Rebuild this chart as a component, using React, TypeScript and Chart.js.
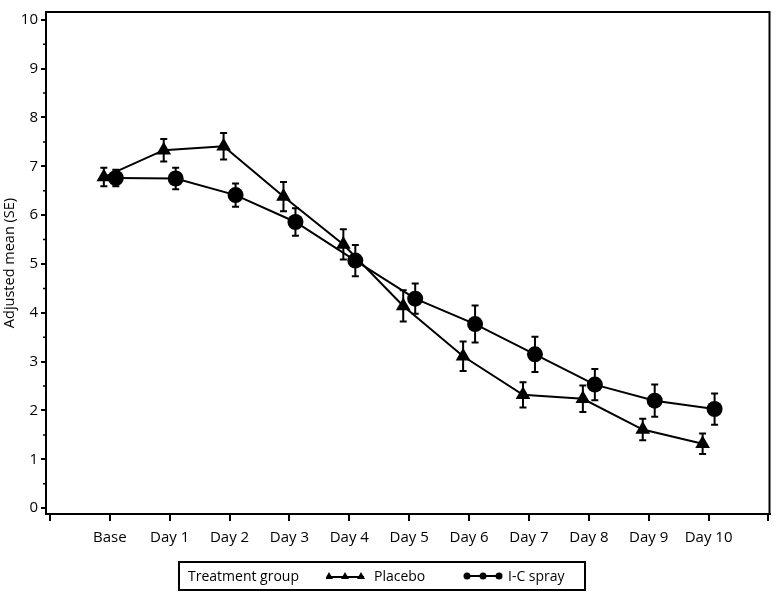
import { useEffect, useRef } from 'react';
import { Chart, registerables } from 'chart.js';

Chart.register(...registerables);

const categories = ['Base', 'Day 1', 'Day 2', 'Day 3', 'Day 4', 'Day 5', 'Day 6', 'Day 7', 'Day 8', 'Day 9', 'Day 10'];
const placeboMean = [6.78, 7.33, 7.41, 6.38, 5.40, 4.14, 3.11, 2.32, 2.24, 1.61, 1.32];
const placeboSE = [0.19, 0.23, 0.27, 0.30, 0.31, 0.32, 0.30, 0.26, 0.27, 0.22, 0.21];
const sprayMean = [6.76, 6.75, 6.41, 5.86, 5.07, 4.29, 3.77, 3.15, 2.53, 2.20, 2.03];
const spraySE = [0.17, 0.22, 0.24, 0.28, 0.32, 0.31, 0.38, 0.36, 0.32, 0.33, 0.32];
const yTickValues = [0, 1, 2, 3, 4, 5, 6, 7, 8, 9, 10];
const xTickValues = [-1, 0, 1, 2, 3, 4, 5, 6, 7, 8, 9, 10, 11];

const FONT = '"Open Sans", "Noto Sans", sans-serif';
const OFFSET = 0.1;

const errorBarPlugin = {
  id: 'errorBars',
  afterDatasetsDraw(chart: any) {
    const ctx = chart.ctx;
    const y = chart.scales.y;
    chart.data.datasets.forEach((ds: any, di: number) => {
      const meta = chart.getDatasetMeta(di);
      meta.data.forEach((pt: any, i: number) => {
        const m = ds.data[i].y;
        const s = ds.se[i];
        const top = y.getPixelForValue(m + s);
        const bot = y.getPixelForValue(m - s);
        ctx.save();
        ctx.strokeStyle = '#000';
        ctx.lineWidth = 2;
        ctx.beginPath();
        ctx.moveTo(pt.x, top);
        ctx.lineTo(pt.x, bot);
        ctx.moveTo(pt.x - 3.5, top);
        ctx.lineTo(pt.x + 3.5, top);
        ctx.moveTo(pt.x - 3.5, bot);
        ctx.lineTo(pt.x + 3.5, bot);
        ctx.stroke();
        ctx.restore();
      });
    });
  },
};

const framePlugin = {
  id: 'frame',
  afterDraw(chart: any) {
    const { ctx, chartArea } = chart;
    const y = chart.scales.y;
    ctx.save();
    ctx.strokeStyle = '#000';
    ctx.lineWidth = 2;
    ctx.strokeRect(chartArea.left, chartArea.top, chartArea.right - chartArea.left, chartArea.bottom - chartArea.top);
    // minor y ticks
    ctx.lineWidth = 1.5;
    ctx.beginPath();
    for (let v = 0.5; v < 10; v += 1) {
      const py = y.getPixelForValue(v);
      ctx.moveTo(chartArea.left - 3, py);
      ctx.lineTo(chartArea.left, py);
    }
    ctx.stroke();
    ctx.restore();
  },
};

export default function App() {
  const ref = useRef<HTMLCanvasElement | null>(null);

  useEffect(() => {
    if (!ref.current) return;
    const chart = new Chart(ref.current, {
      type: 'line',
      data: {
        datasets: [
          {
            label: 'Placebo',
            data: placeboMean.map((v, i) => ({ x: i - OFFSET, y: v })),
            se: placeboSE,
            borderColor: '#000',
            backgroundColor: '#000',
            borderWidth: 2,
            pointStyle: 'triangle',
            pointRadius: 8.5,
            pointBorderWidth: 0,
            pointBackgroundColor: '#000',
            tension: 0,
          } as any,
          {
            label: 'I-C spray',
            data: sprayMean.map((v, i) => ({ x: i + OFFSET, y: v })),
            se: spraySE,
            borderColor: '#000',
            backgroundColor: '#000',
            borderWidth: 2,
            pointStyle: 'circle',
            pointRadius: 8,
            pointBorderWidth: 0,
            pointBackgroundColor: '#000',
            tension: 0,
          } as any,
        ],
      },
      options: {
        animation: false,
        responsive: false,
        maintainAspectRatio: false,
        layout: { padding: { top: 2, right: 5, left: 0, bottom: 0 } },
        plugins: { legend: { display: false }, tooltip: { enabled: false } },
        scales: {
          x: {
            type: 'linear',
            min: -1.066,
            max: 11.017,
            afterBuildTicks: (scale: any) => {
              scale.ticks = xTickValues.map((v) => ({ value: v }));
            },
            afterFit: (scale: any) => {
              scale.height = 80;
            },
            grid: { display: true, drawOnChartArea: false, drawTicks: true, tickLength: 7, color: '#000', lineWidth: 2 },
            border: { display: true, color: '#000', width: 2 },
            ticks: {
              autoSkip: false,
              maxRotation: 0,
              padding: 8,
              color: '#000',
              font: { family: FONT, size: 15 },
              callback: (value: any) => {
                const i = Number(value);
                return categories[i] !== undefined && Number.isInteger(i) ? categories[i] : '';
              },
            },
          },
          y: {
            type: 'linear',
            min: -0.12,
            max: 10.16,
            afterBuildTicks: (scale: any) => {
              scale.ticks = yTickValues.map((v) => ({ value: v }));
            },
            afterFit: (scale: any) => {
              scale.width = 46;
            },
            grid: { display: true, drawOnChartArea: false, drawTicks: true, tickLength: 5, color: '#000', lineWidth: 2 },
            border: { display: true, color: '#000', width: 2 },
            title: {
              display: true,
              text: 'Adjusted mean (SE)',
              color: '#000',
              font: { family: FONT, size: 14.5 },
              padding: { top: 1, bottom: 0 },
            },
            ticks: {
              padding: 3,
              color: '#000',
              font: { family: FONT, size: 15 },
              callback: (value: any) => String(value),
            },
          },
        },
      },
      plugins: [errorBarPlugin, framePlugin],
    });
    return () => chart.destroy();
  }, []);

  const text: any = { position: 'absolute', top: 0, lineHeight: '26px', fontFamily: FONT, fontSize: 14, color: '#000', whiteSpace: 'nowrap' };

  return (
    <div style={{ position: 'fixed', left: 0, top: 0, width: 778, height: 594, background: '#fff' }}>
      <canvas ref={ref} width={778} height={594} style={{ width: 778, height: 594, display: 'block' }} />
      <div
        style={{
          position: 'absolute',
          left: 178,
          top: 561,
          width: 408,
          height: 30,
          border: '2px solid #000',
          boxSizing: 'border-box',
        }}
      >
        <span style={{ ...text, left: 8 }}>Treatment group</span>
        <svg style={{ position: 'absolute', left: 146, top: 6 }} width={40} height={14}>
          <line x1={2} y1={8} x2={38} y2={8} stroke="#000" strokeWidth={2} />
          {[3, 19, 35].map((cx) => (
            <polygon key={cx} points={`${cx},3 ${cx + 4},10 ${cx - 4},10`} fill="#000" />
          ))}
        </svg>
        <span style={{ ...text, left: 194 }}>Placebo</span>
        <svg style={{ position: 'absolute', left: 283, top: 6 }} width={42} height={14}>
          <line x1={3} y1={7} x2={38} y2={7} stroke="#000" strokeWidth={2} />
          {[4, 20, 36].map((cx) => (
            <circle key={cx} cx={cx} cy={7} r={3.5} fill="#000" />
          ))}
        </svg>
        <span style={{ ...text, left: 328 }}>I-C spray</span>
      </div>
    </div>
  );
}
